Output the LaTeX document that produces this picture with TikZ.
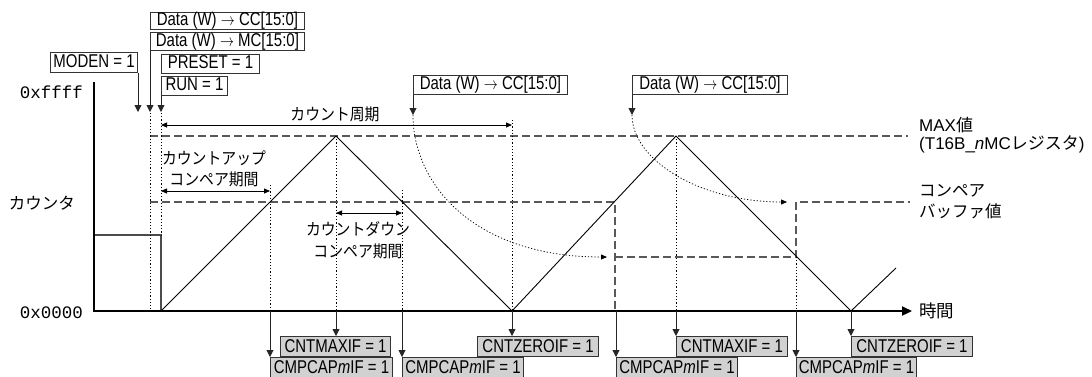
\documentclass[tikz,border=0pt]{standalone}
\usepackage{fontspec}
\setmainfont{Liberation Sans}
\newfontfamily\boxf{Liberation Sans}[FakeStretch=0.81]
\newfontfamily\jpf{Noto Sans CJK JP}[FakeStretch=0.9]
\newfontfamily\jpw{Noto Sans CJK JP}
\newfontfamily\monof{Liberation Mono}
\usetikzlibrary{arrows.meta}
\newcommand{\darr}{\scalebox{0.81}[1]{$\rightarrow$}}
\begin{document}
\begin{tikzpicture}[x=1pt,y=-1pt,
  every node/.style={inner sep=0pt},
  lbox/.style={draw=black!80, line width=0.9pt, fill=white, minimum height=19pt, text height=13pt, text depth=3pt, font=\fontsize{18.5}{20}\selectfont\boxf},
  gbox/.style={lbox, fill=black!18, minimum height=20pt, text height=14pt, text depth=2pt},
  sig/.style={draw=black!85, line width=0.9pt, -{Triangle[width=7pt,length=7pt]}},
  spanarrow/.style={draw=black, line width=0.8pt, {Triangle[width=5pt,length=6pt]}-{Triangle[width=5pt,length=6pt]}},
  dline/.style={draw=black!65, line width=1.1pt, dash pattern=on 8pt off 4pt},
  dotl/.style={draw=black, line width=0.75pt, dash pattern=on 1.2pt off 2pt},
  dotarrow/.style={dotl, -{Triangle[width=5pt,length=6pt]}},
  wave/.style={draw=black, line width=0.9pt},
  jp/.style={font=\fontsize{16.5}{18}\selectfont\jpf},
  jpbig/.style={font=\fontsize{16.5}{18}\selectfont\jpw},
  biglbl/.style={font=\fontsize{17}{19}\selectfont},
  monol/.style={font=\fontsize{17.5}{19}\selectfont\monof}
]
\useasboundingbox (0,0) rectangle (1092,376);

% ---------- key coordinates ----------
\coordinate (o) at (94,311);
\coordinate (ytop) at (94,82);
\coordinate (xend) at (912,311);
\coordinate (z0) at (161,311);
\coordinate (p1) at (336,136);
\coordinate (z1) at (512,311);
\coordinate (p2) at (676,136);
\coordinate (z2) at (851,311);
\coordinate (wend) at (896,268);

% ---------- dashed reference levels ----------
\draw[dline] (150,136) -- (908,136);
\draw[dline] (150,202) -- (615,202) -- (615,311);
\draw[dline] (615,257) -- (796,257) -- (796,202) -- (910,202);

% ---------- initial counter ----------
\draw[draw=black!70, line width=1.2pt] (94,235) -- (161,235) -- (z0);

% ---------- dotted guide lines ----------
\draw[dotl] (150,113) -- (150,311);
\draw[dotl] (161,113) -- (161,235);
\draw[dotl] (270,185) -- (270,311);
\draw[dotl] (p1) -- (336,311);
\draw[dotl] (402,190) -- (402,311);
\draw[dotl] (512,120) -- (z1);
\draw[dotl] (p2) -- (676,311);
\draw[dotl] (796,257) -- (796,311);

% ---------- triangle wave ----------
\draw[wave] (z0) -- (p1) -- (z1) -- (p2) -- (z2) -- (wend);

% ---------- axes ----------
\draw[line width=2.2pt, -{Triangle[width=9pt,length=10pt]}] (ytop) -- (o) -- (xend);

% ---------- axis labels ----------
\node[monol, anchor=east] (yff) at (83,92) {0xffff};
\node[monol, anchor=east] (y00) at (83,313) {0x0000};
\node[jpbig] (cntl) at (42,203) {カウンタ};
\node[anchor=west, font=\fontsize{17.5}{19}\selectfont\jpw] (timel) at (919,311) {時間};
\node[biglbl, anchor=west] (maxa) at (919,125) {MAX{\jpw 値}};
\node[biglbl, anchor=west] (maxb) at (919,144) {(T16B\_\textit{n}MC{\jpw レジスタ})};
\node[jpbig, anchor=west] (cmpa) at (919,191) {コンペア};
\node[jpbig, anchor=west] (cmpb) at (919,211) {バッファ値};

% ---------- period annotations ----------
\coordinate (perL) at (161,125);
\coordinate (perR) at (512,125);
\draw[spanarrow] (perL) -- (perR);
\node[jp] (per) at (335,114) {カウント周期};
\coordinate (upL) at (161,191);
\coordinate (upR) at (270,191);
\draw[spanarrow] (upL) -- (upR);
\node[jp] (up1) at (214,158) {カウントアップ};
\node[jp] (up2) at (214,179) {コンペア期間};
\coordinate (dnL) at (336,213);
\coordinate (dnR) at (402,213);
\draw[spanarrow] (dnL) -- (dnR);
\node[jp] (dn1) at (358,229) {カウントダウン};
\node[jp] (dn2) at (358,251) {コンペア期間};

% ---------- top boxes ----------
\node[lbox, anchor=north west, minimum width=154pt, minimum height=17pt] (dcc1) at (150,12) {Data (W) \darr{} CC[15:0]};
\node[lbox, anchor=north west, minimum width=154pt, minimum height=18pt] (dmc) at (150,32) {Data (W) \darr{} MC[15:0]};
\node[lbox, anchor=north east, minimum width=87pt, minimum height=20pt] (moden) at (138,52) {MODEN = 1};
\node[lbox, anchor=north west, minimum width=98pt] (preset) at (161,54) {PRESET = 1};
\node[lbox, anchor=north west, minimum width=66pt] (run) at (161,76) {RUN = 1};
\node[lbox, anchor=north west, minimum width=154pt] (dcc2) at (413,75) {Data (W) \darr{} CC[15:0]};
\node[lbox, anchor=north west, minimum width=155pt] (dcc3) at (632,75) {Data (W) \darr{} CC[15:0]};

\coordinate (tA) at (138,112);
\coordinate (tB) at (150,112);
\coordinate (tC) at (161,112);
\coordinate (tD) at (413,115);
\coordinate (tE) at (632,115);
\draw[sig] (moden.south east) -- (tA);
\draw[sig] (dmc.south west) -- (tB);
\draw[sig] (run.south west) -- (tC);
\draw[sig] (dcc2.south west) -- (tD);
\draw[sig] (dcc3.south west) -- (tE);

% ---------- curved buffer transfer arrows ----------
\coordinate (cA) at (607,257);
\coordinate (cB) at (787,202);
\draw[dotarrow] (tD) .. controls (413,185) and (475,257) .. (cA);
\draw[dotarrow] (tE) .. controls (632,160) and (700,202) .. (cB);

% ---------- bottom flag boxes ----------
\coordinate (b1) at (270,311);
\coordinate (b2) at (336,311);
\coordinate (b3) at (402,311);
\coordinate (b4) at (512,311);
\coordinate (b5) at (616,311);
\coordinate (b6) at (676,311);
\coordinate (b7) at (796,311);
\coordinate (b8) at (851,311);

\node[gbox, anchor=north west, minimum width=122pt] (cp1) at (270,357) {CMPCAP\textit{m}IF = 1};
\node[gbox, anchor=north east, minimum width=110pt] (mx1) at (391,336) {CNTMAXIF = 1};
\node[gbox, anchor=north west, minimum width=121pt] (cp2) at (402,357) {CMPCAP\textit{m}IF = 1};
\node[gbox, anchor=north east, minimum width=121pt] (zr1) at (599,336) {CNTZEROIF = 1};
\node[gbox, anchor=north west, minimum width=121pt] (cp3) at (616,357) {CMPCAP\textit{m}IF = 1};
\node[gbox, anchor=north west, minimum width=111pt] (mx2) at (676,336) {CNTMAXIF = 1};
\node[gbox, anchor=north west, minimum width=120pt] (cp4) at (796,357) {CMPCAP\textit{m}IF = 1};
\node[gbox, anchor=north west, minimum width=121pt] (zr2) at (851,336) {CNTZEROIF = 1};

\draw[sig] (b1) -- (cp1.north west);
\draw[sig] (b2) -- (b2 |- mx1.north);
\draw[sig] (b3) -- (cp2.north west);
\draw[sig] (b4) -- (b4 |- zr1.north);
\draw[sig] (b5) -- (cp3.north west);
\draw[sig] (b6) -- (mx2.north west);
\draw[sig] (b7) -- (cp4.north west);
\draw[sig] (b8) -- (zr2.north west);
\end{tikzpicture}
\end{document}
